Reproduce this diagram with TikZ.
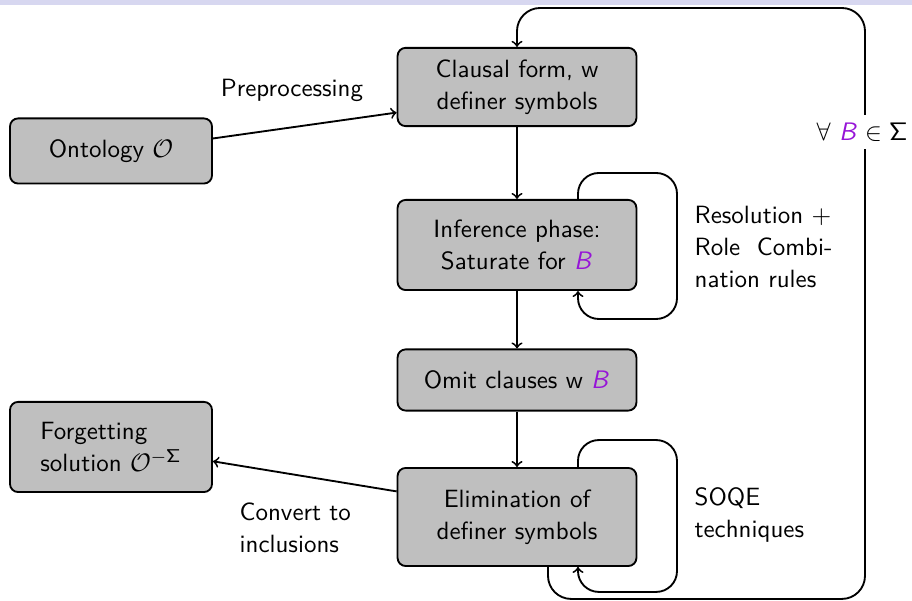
\documentclass[tikz,border=0pt]{standalone}
\usepackage{amsmath,amssymb}
\usepackage{tikz}
\usetikzlibrary{calc}
\renewcommand{\familydefault}{\sfdefault}
\DeclareMathAlphabet{\mathsfit}{OT1}{cmss}{m}{sl}
\definecolor{symbcol}{RGB}{150,20,215}
\definecolor{barcol}{RGB}{215,215,240}
\newcommand{\symB}{\textcolor{symbcol}{\mathsfit{B}}}

\begin{document}
\begin{tikzpicture}[x=0.0152cm,y=0.0152cm,thick,font=\fontsize{10.8}{14}\selectfont,
  stage/.style={draw,fill=black!25,rounded corners=3.5pt,align=center,minimum width=3.63cm},
  side/.style={draw,fill=black!25,rounded corners=3.5pt,minimum width=3.07cm},
  loop/.style={->,rounded corners=9pt},
  note/.style={anchor=west,align=left}]
  \useasboundingbox (0,0) rectangle (912,601);
  \fill[barcol] (0,596) rectangle (912,601);
  \node[stage,minimum height=1.19cm] (clausal) at (517,514) {Clausal form, w\\definer symbols};
  \node[side,minimum height=0.99cm] (onto) at (111,450) {Ontology $\mathcal{O}$};
  \node[stage,minimum height=1.37cm] (infer) at (517,356) {Inference phase:\\Saturate for $\symB$};
  \node[stage,minimum height=0.93cm] (omit) at (517,221) {Omit clauses w $\symB$};
  \node[side,minimum height=1.37cm,align=left] (forget) at (111,154) {Forgetting\\solution $\mathcal{O}^{-\mathsf{\Sigma}}$};
  \node[stage,minimum height=1.49cm] (elim) at (517,84) {Elimination of\\definer symbols};
  \draw[->] (onto.7) -- (clausal.192);
  \draw[->] (clausal) -- (infer);
  \draw[->] (infer) -- (omit);
  \draw[->] (omit) -- (elim);
  \draw[->] (elim.168) -- (forget.-8);
  \draw[loop] ($(infer.north)+(61,0)$) -- ++(0,26) -| ($(infer.south)+(160,-28)$) -| ($(infer.south)+(61,0)$);
  \draw[loop] ($(elim.north)+(61,0)$) -- ++(0,27) -| ($(elim.south)+(160,-25)$) -| ($(elim.south)+(61,0)$);
  \coordinate (back) at (865,593);
  \draw[->,rounded corners=10pt] ($(elim.south)+(31,0)$) -- ++(0,-32) -| (back) -| (clausal.north);
  \node (pre) at (292,511) {Preprocessing};
  \node[fill=white] (forall) at (862,469) {$\forall\ \symB \in \mathsf{\Sigma}$};
  \node[note] (rules) at (686,354) {Resolution $+$\\Role\ \ Combi-\\nation rules};
  \node[note] (soqe) at (686,86) {SOQE\\techniques};
  \node[note] (conv) at (231,73) {Convert to\\inclusions};
\end{tikzpicture}
\end{document}
